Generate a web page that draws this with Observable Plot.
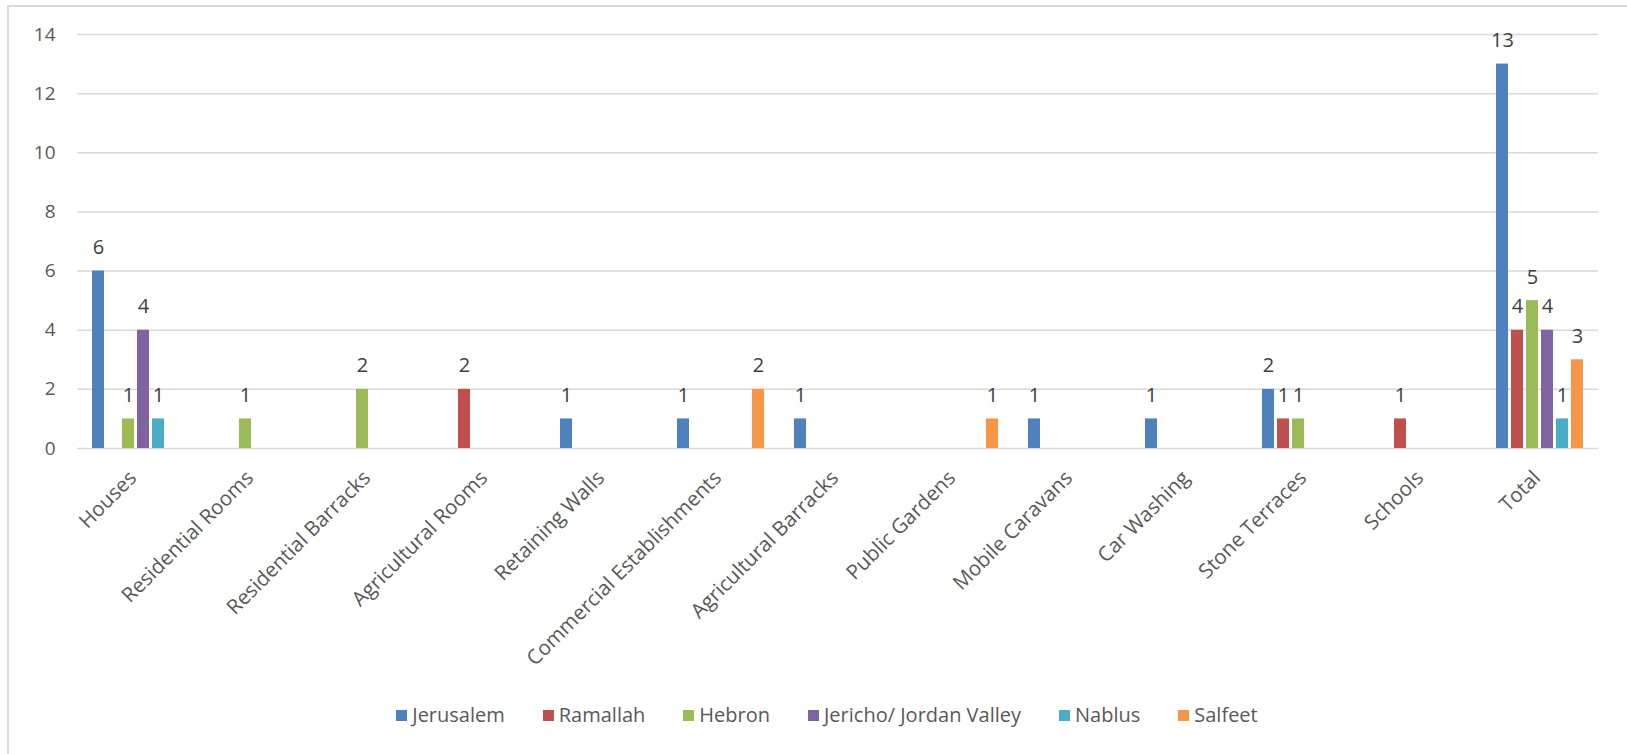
<!DOCTYPE html>
<html>
<head>
<meta charset="utf-8">
<script src="https://cdn.jsdelivr.net/npm/d3@7"></script>
<script src="https://cdn.jsdelivr.net/npm/@observablehq/plot@0.6"></script>
<style>
  html, body { margin: 0; padding: 0; background: #fff; overflow: hidden; width: 1627px; height: 754px; }
  #frame { position: absolute; left: 7px; top: 5px; width: 1700px; height: 800px;
           border-left: 2px solid #d9d9d9; border-top: 2px solid #d9d9d9; box-sizing: border-box; }
  #chart { position: absolute; left: 0; top: 0; }
  #legend { position: absolute; left: 17px; width: 1620px; top: 703px; display: flex; justify-content: center;
            gap: 38px; font-family: "Open Sans", sans-serif; font-size: 20px; color: #595959; line-height: 24px; }
  #legend .item { display: flex; align-items: center; white-space: nowrap; }
  #legend .sw { display: inline-block; width: 11px; height: 11px; margin-right: 5px; }
</style>
</head>
<body>
<div id="frame"></div>
<div id="chart"></div>
<div id="legend"></div>
<script>
const categories = ["Houses", "Residential Rooms", "Residential Barracks", "Agricultural Rooms", "Retaining Walls",
  "Commercial Establishments", "Agricultural Barracks", "Public Gardens", "Mobile Caravans", "Car Washing",
  "Stone Terraces", "Schools", "Total"];
const regions = ["Jerusalem", "Ramallah", "Hebron", "Jericho/ Jordan Valley", "Nablus", "Salfeet"];
const colors = ["#4F81BD", "#C0504D", "#9BBB59", "#8064A2", "#4BACC6", "#F79646"];

const jerusalem = [6, 0, 0, 0, 1, 1, 1, 0, 1, 1, 2, 0, 13];
const ramallah  = [0, 0, 0, 2, 0, 0, 0, 0, 0, 0, 1, 1, 4];
const hebron    = [1, 1, 2, 0, 0, 0, 0, 0, 0, 0, 1, 0, 5];
const jericho   = [4, 0, 0, 0, 0, 0, 0, 0, 0, 0, 0, 0, 4];
const nablus    = [1, 0, 0, 0, 0, 0, 0, 0, 0, 0, 0, 0, 1];
const salfeet   = [0, 0, 0, 0, 0, 2, 0, 1, 0, 0, 0, 0, 3];

const yTicks = [0, 2, 4, 6, 8, 10, 12, 14];

const series = [jerusalem, ramallah, hebron, jericho, nablus, salfeet];
const rows = categories.flatMap((c, i) => regions.map((r, j) => ({category: c, region: r, value: series[j][i]})));
const shown = rows.filter(d => d.value > 0);

const chart = Plot.plot({
  width: 1627,
  height: 625,
  marginLeft: 72,
  marginRight: 25,
  marginTop: 34,
  marginBottom: 177,
  style: {fontFamily: "Open Sans, sans-serif", fontSize: "19px", color: "#595959", background: "transparent", overflow: "visible"},
  fx: {domain: categories, padding: 0, label: null},
  x: {domain: regions, paddingInner: 0.23, paddingOuter: 0.89, axis: null},
  y: {domain: [0, 14], label: null},
  color: {domain: regions, range: colors},
  marks: [
    Plot.gridY(yTicks, {stroke: "#d9d9d9", strokeOpacity: 1, strokeWidth: 1.5}),
    Plot.axisY({ticks: yTicks, tickSize: 0, tickPadding: 22, label: null, fontSize: 19}),
    Plot.axisFx({anchor: "bottom", tickRotate: -45, tickSize: 0, tickPadding: 26, dx: -3, label: null, fontSize: 20.5}),
    Plot.barY(shown, {fx: "category", x: "region", y: "value", fill: "region"}),
    Plot.text(shown, {fx: "category", x: "region", y: "value", text: d => String(d.value),
      lineAnchor: "bottom", dy: -17, fill: "#404040", fontSize: 20})
  ]
});
document.getElementById("chart").appendChild(chart);

const legend = document.getElementById("legend");
regions.forEach((r, i) => {
  const item = document.createElement("div");
  item.className = "item";
  const sw = document.createElement("span");
  sw.className = "sw";
  sw.style.background = colors[i];
  item.appendChild(sw);
  item.appendChild(document.createTextNode(r));
  legend.appendChild(item);
});
</script>
</body>
</html>
